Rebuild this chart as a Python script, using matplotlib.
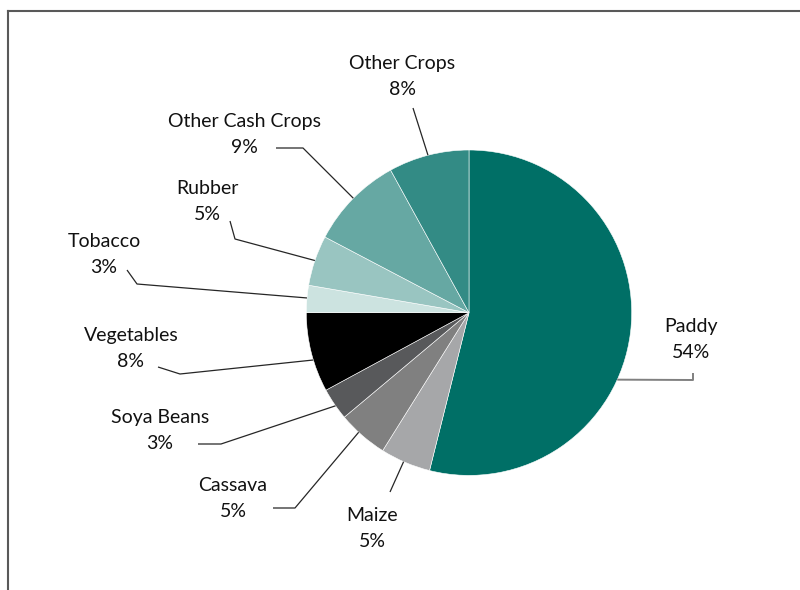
import matplotlib
matplotlib.use("Agg")
import matplotlib.pyplot as plt
import numpy as np

# data (share of area, %)
crops = ['Paddy', 'Maize', 'Cassava', 'Soya Beans', 'Vegetables',
         'Tobacco', 'Rubber', 'Other Cash Crops', 'Other Crops']
shares = [53.9, 5.0, 5.0, 3.2, 7.9, 2.7, 5.0, 9.3, 8.0]
colors = ['#006f66', '#a6a7a9', '#808080', '#58595b', '#000000',
          '#cce3e0', '#99c5c1', '#66a8a3', '#338b85']

W, H = 800, 590
cx, cy, R = 469, 312.7, 162.7   # pie centre / radius in pixels (y from top)

# label layout (pixel positions, y from top)
label_xy = [(691, 339.5), (372, 528.5), (233, 498.5), (160, 430.5), (131, 348.5),
            (104, 254.5), (207, 201.5), (244, 134.5), (402, 76.5)]
# leader lines: label-side points, then anchor angle on the pie rim
leader_pts = [[(693, 373), (693, 380)],
              [(390, 492)],
              [(273, 508), (295, 508)],
              [(198, 444), (221, 444)],
              [(158, 367), (180, 374)],
              [(127, 270), (137, 284)],
              [(230, 221), (235, 239)],
              [(276, 148), (303, 148)],
              [(413, 108)]]
anchor_deg = [-24.3, -113.7, -132.7, -145.1, -163.1, 174.8, 161.3, 135.3, 104.6]


def fy(y):
    return H - y


fig = plt.figure(figsize=(8, 5.9), dpi=100)
ax = fig.add_axes([0, 0, 1, 1])

ax.pie(shares, colors=colors, startangle=90, counterclock=False,
       center=(cx, fy(cy)), radius=R, frame=True,
       wedgeprops=dict(edgecolor='white', linewidth=0.4))
ax.set_xlim(0, W)
ax.set_ylim(0, H)
ax.set_aspect('equal')
ax.axis('off')

for i, (name, val) in enumerate(zip(crops, shares)):
    lx, ly = label_xy[i]
    ax.text(lx, fy(ly), f"{name}\n{round(val):.0f}%", ha='center', va='center',
            fontsize=14, family='Lato', color='#111111', linespacing=1.65)
    a = np.radians(anchor_deg[i])
    xs = [p[0] for p in leader_pts[i]] + [cx + R * np.cos(a)]
    ys = [fy(p[1]) for p in leader_pts[i]] + [fy(cy) + R * np.sin(a)]
    lc, lw = ('#808080', 1.4) if i == 0 else ('#262626', 0.9)
    ax.plot(xs, ys, color=lc, lw=lw, solid_capstyle='butt')

# chart frame (left and top edges visible)
fig.add_artist(plt.Line2D([7.5 / W, 7.5 / W], [0, 1 - 11 / H], color='#595959', lw=1.5))
fig.add_artist(plt.Line2D([7.5 / W, 1], [1 - 11 / H, 1 - 11 / H], color='#595959', lw=1.5))

fig.savefig('out.png', dpi=100, facecolor='white')
